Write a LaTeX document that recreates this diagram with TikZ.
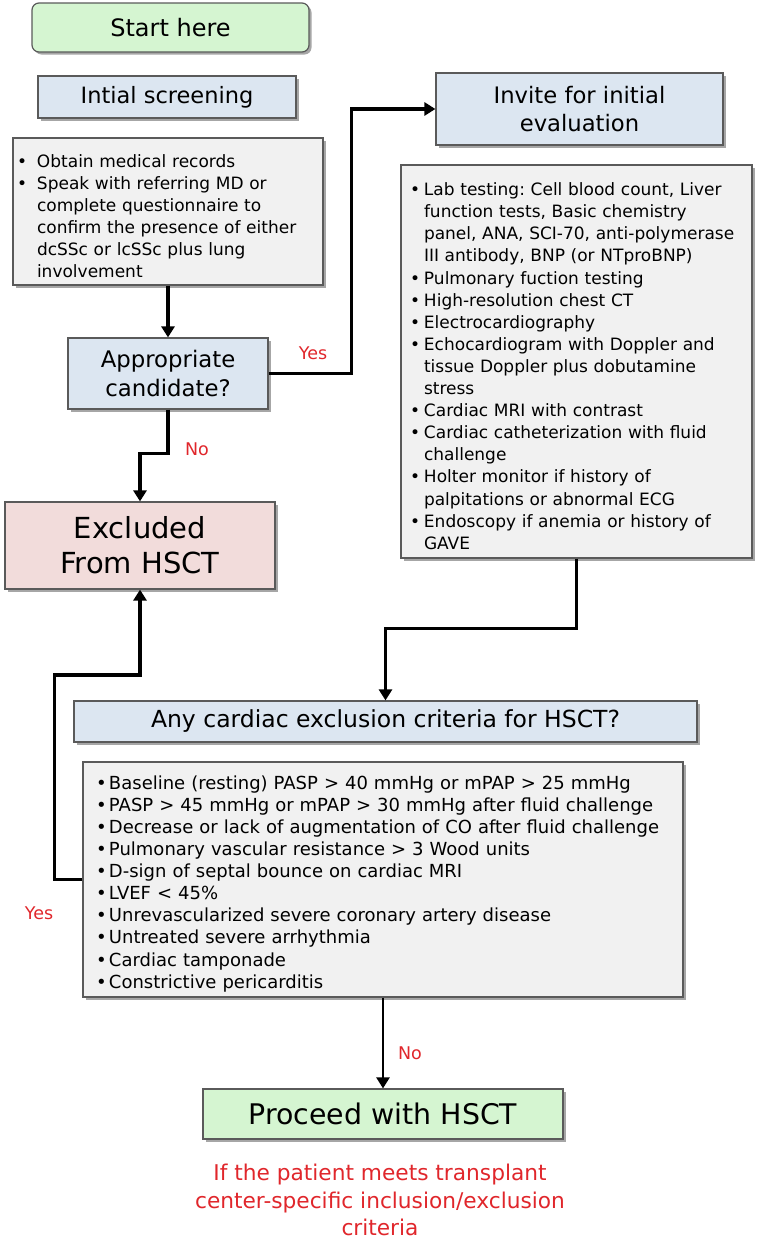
\documentclass[tikz,border=0pt]{standalone}
\usepackage{fontspec}
\setmainfont{DejaVu Sans}
\usetikzlibrary{arrows.meta,shadows}
\definecolor{gfill}{HTML}{D5F5D1}
\definecolor{bfill}{HTML}{DCE6F1}
\definecolor{lfill}{HTML}{F1F1F1}
\definecolor{pfill}{HTML}{F2DCDB}
\definecolor{edgec}{HTML}{5A5A5A}
\definecolor{redtxt}{HTML}{E0262B}
\newcommand\bitem[2]{\par\hangindent=#1\hangafter=1\noindent\makebox[#1][l]{•}#2}
\frenchspacing
\begin{document}
\begin{tikzpicture}[x=1pt,y=-1pt,
  box/.style={draw=edgec, line width=1.2pt, inner sep=0pt,
    drop shadow={shadow xshift=2.5pt, shadow yshift=-2.5pt, opacity=0.35, fill=black}},
  head/.style={box, align=center},
  listbox/.style={box, fill=lfill, font=\fontsize{17}{22.1}\selectfont\frenchspacing},
  conn/.style={line width=3.2pt, line join=miter, -{Triangle[length=11pt,width=13pt]}},
  lbl/.style={text=redtxt, font=\fontsize{17.5}{21}\selectfont, inner sep=0pt}]
\useasboundingbox (0,0) rectangle (758,1240);

\node[head, fill=gfill, rounded corners=7pt, minimum width=277pt, minimum height=49pt,
  font=\fontsize{24}{28}\selectfont] (start) at (170.5,27.5) {Start here};

\node[head, fill=bfill, minimum width=258pt, minimum height=42pt,
  font=\fontsize{22.5}{28}\selectfont] (screen) at (167,97) {Intial screening};

\node[listbox, minimum width=310pt, minimum height=147pt, text width=302pt, inner xsep=4pt] (slist) at (168,211.5) {\raggedright\frenchspacing
  \bitem{20pt}{Obtain medical records}
  \bitem{20pt}{Speak with referring MD or\newline complete questionnaire to\newline confirm the presence of either\newline dcSSc or lcSSc plus lung\newline involvement}\par};

\node[head, fill=bfill, minimum width=287pt, minimum height=72pt,
  font=\fontsize{22.7}{28}\selectfont] (invite) at (579.5,109) {Invite for initial\\evaluation};

\node[listbox, minimum width=347pt, minimum height=393pt, text width=333pt, inner xsep=9pt] (elist) at (576.5,361.5) {\raggedright\frenchspacing
  \bitem{14pt}{Lab testing: Cell blood count, Liver\newline function tests, Basic chemistry\newline panel, ANA, SCI-70, anti-polymerase\newline III antibody, BNP (or NTproBNP)}
  \bitem{14pt}{Pulmonary fuction testing}
  \bitem{14pt}{High-resolution chest CT}
  \bitem{14pt}{Electrocardiography}
  \bitem{14pt}{Echocardiogram with Doppler and\newline tissue Doppler plus dobutamine\newline stress}
  \bitem{14pt}{Cardiac MRI with contrast}
  \bitem{14pt}{Cardiac catheterization with fluid\newline challenge}
  \bitem{14pt}{Holter monitor if history of\newline palpitations or abnormal ECG}
  \bitem{14pt}{Endoscopy if anemia or history of\newline GAVE}\par};

\node[head, fill=bfill, minimum width=200pt, minimum height=71pt,
  font=\fontsize{22.8}{29}\selectfont] (cand) at (168,373.5) {Appropriate\\candidate?};

\node[head, fill=pfill, minimum width=270pt, minimum height=87pt,
  font=\fontsize{29}{35}\selectfont] (excl) at (140,545.5) {Excluded\\From HSCT};

\node[head, fill=bfill, minimum width=623pt, minimum height=41pt,
  font=\fontsize{23.5}{28}\selectfont] (any) at (385.5,721.5) {Any cardiac exclusion criteria for HSCT?};

\node[listbox, minimum width=600pt, minimum height=235pt, text width=574pt, inner xsep=13pt,
  font=\fontsize{18}{22.1}\selectfont] (clist) at (383,879.5) {\raggedright\frenchspacing
  \bitem{13pt}{Baseline (resting) PASP > 40 mmHg or mPAP > 25 mmHg}
  \bitem{13pt}{PASP > 45 mmHg or mPAP > 30 mmHg after fluid challenge}
  \bitem{13pt}{Decrease or lack of augmentation of CO after fluid challenge}
  \bitem{13pt}{Pulmonary vascular resistance > 3 Wood units}
  \bitem{13pt}{D-sign of septal bounce on cardiac MRI}
  \bitem{13pt}{LVEF < 45\%}
  \bitem{13pt}{Unrevascularized severe coronary artery disease}
  \bitem{13pt}{Untreated severe arrhythmia}
  \bitem{13pt}{Cardiac tamponade}
  \bitem{13pt}{Constrictive pericarditis}\par};

\node[head, fill=gfill, minimum width=360pt, minimum height=50pt,
  font=\fontsize{28.4}{34}\selectfont] (proc) at (383,1114) {Proceed with HSCT};

\node[text=redtxt, align=center, inner sep=0pt, font=\fontsize{21.7}{27.5}\selectfont]
  (note) at (380,1200) {If the patient meets transplant\\center-specific inclusion/exclusion\\criteria};

% connectors
\draw[conn] (slist.south) -- (cand.north);
\draw[conn] (cand.east) -- ++(83,0) |- (invite.west);
\draw[conn] (cand.south) -- ++(0,44) -| (excl.north);
\draw[conn] (elist.south) -- ++(0,70) -| (any.north);
\draw[conn] (clist.west) -- ++(-28,0) -- ++(0,-204.5) -| (excl.south);
\draw[conn, line width=2.4pt] (clist.south) -- (proc.north);

% labels
\node[lbl] (yes1) at (313,353) {Yes};
\node[lbl] (no1) at (197,449) {No};
\node[lbl] (yes2) at (39,913) {Yes};
\node[lbl] (no2) at (410,1053) {No};
\end{tikzpicture}
\end{document}
